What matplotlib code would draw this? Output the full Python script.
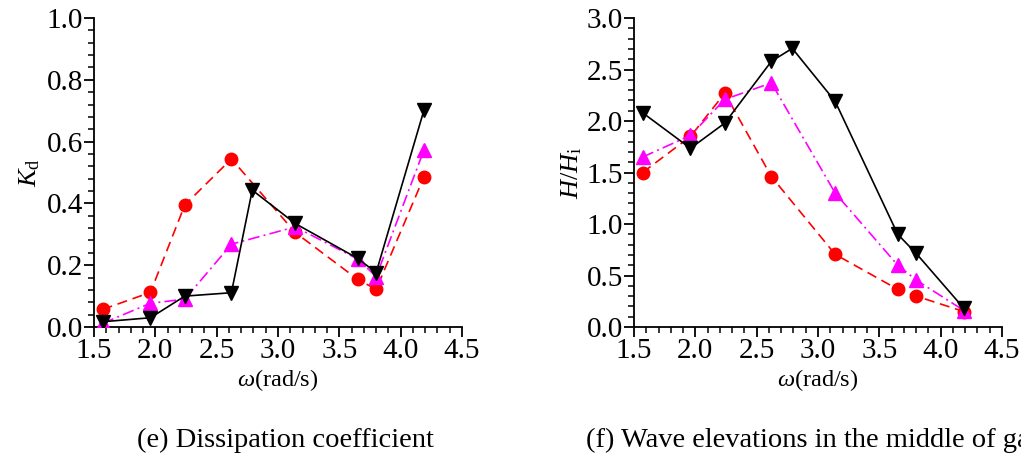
import matplotlib
matplotlib.use("Agg")
import matplotlib.pyplot as plt
from matplotlib.ticker import MultipleLocator, FormatStrFormatter

# omega (rad/s) for each series
omega_all = [1.57, 1.96, 2.24, 2.62, 2.79, 3.14, 3.65, 3.80, 4.19]
omega_sub = [1.57, 1.96, 2.24, 2.62, 3.14, 3.65, 3.80, 4.19]

# (e) dissipation coefficient
kd_red = [0.057, 0.112, 0.395, 0.544, 0.306, 0.154, 0.122, 0.486]
kd_magenta = [0.012, 0.077, 0.090, 0.268, 0.324, 0.220, 0.163, 0.573]
kd_black = [0.017, 0.030, 0.100, 0.111, 0.443, 0.335, 0.222, 0.176, 0.702]

# (f) wave elevation in the gap
h_red = [1.50, 1.85, 2.27, 1.46, 0.705, 0.366, 0.30, 0.15]
h_magenta = [1.65, 1.86, 2.21, 2.37, 1.30, 0.60, 0.456, 0.16]
h_black = [2.08, 1.735, 1.98, 2.58, 2.705, 2.19, 0.90, 0.715, 0.18]

plt.rcParams["font.family"] = ["Liberation Serif", "DejaVu Serif"]
plt.rcParams["mathtext.fontset"] = "custom"
plt.rcParams["mathtext.it"] = "Liberation Serif:italic"
plt.rcParams["mathtext.rm"] = "Liberation Serif"

fig = plt.figure(figsize=(10.21, 4.63), dpi=100)
ax_e = fig.add_axes([0.0921, 0.2937, 0.3604, 0.6674])
ax_f = fig.add_axes([0.621, 0.2937, 0.3604, 0.6674])

TICK_FS = 21
LABEL_FS = 17.5
CAP_FS = 20.5


def draw(ax, red, magenta, black):
    ax.plot(omega_sub, red, color="red", linestyle=(0, (6, 3.5)), linewidth=1.2,
            marker="o", markersize=9, zorder=3)
    ax.plot(omega_sub, magenta, color="magenta", linestyle=(0, (7, 2.5, 1.2, 2.5)),
            linewidth=1.2, marker="^", markersize=10.5, zorder=4)
    ax.plot(omega_all, black, color="black", linestyle="-", linewidth=1.2,
            marker="v", markersize=10.5, zorder=5)
    ax.set_xlim(1.5, 4.5)
    ax.xaxis.set_major_locator(MultipleLocator(0.5))
    ax.xaxis.set_minor_locator(MultipleLocator(0.1))
    ax.xaxis.set_major_formatter(FormatStrFormatter("%.1f"))
    ax.yaxis.set_major_formatter(FormatStrFormatter("%.1f"))
    for side in ("top", "right"):
        ax.spines[side].set_visible(False)
    for side in ("left", "bottom"):
        ax.spines[side].set_linewidth(1.3)
    ax.tick_params(which="major", direction="out", length=7, width=1.3,
                   labelsize=TICK_FS, pad=1)
    ax.tick_params(which="minor", direction="out", length=4, width=1.1)
    ax.set_xlabel(r"$\mathit{\omega}$(rad/s)", fontsize=LABEL_FS, labelpad=2)


draw(ax_e, kd_red, kd_magenta, kd_black)
ax_e.set_ylim(0, 1.0)
ax_e.yaxis.set_major_locator(MultipleLocator(0.2))
ax_e.yaxis.set_minor_locator(MultipleLocator(0.04))
ax_e.set_ylabel(r"$K_{\rm d}$", fontsize=19, labelpad=3)

draw(ax_f, h_red, h_magenta, h_black)
ax_f.set_ylim(0, 3.0)
ax_f.yaxis.set_major_locator(MultipleLocator(0.5))
ax_f.yaxis.set_minor_locator(MultipleLocator(0.1))
ax_f.set_ylabel(r"$H/H_{\rm i}$", fontsize=19, labelpad=2)

fig.text(137 / 1021, 1 - 440 / 463, "(e) Dissipation coefficient",
         fontsize=CAP_FS, ha="left", va="center")
fig.text(586 / 1021, 1 - 440 / 463, "(f) Wave elevations in the middle of gap",
         fontsize=CAP_FS, ha="left", va="center")

fig.savefig("out.png", dpi=100)
